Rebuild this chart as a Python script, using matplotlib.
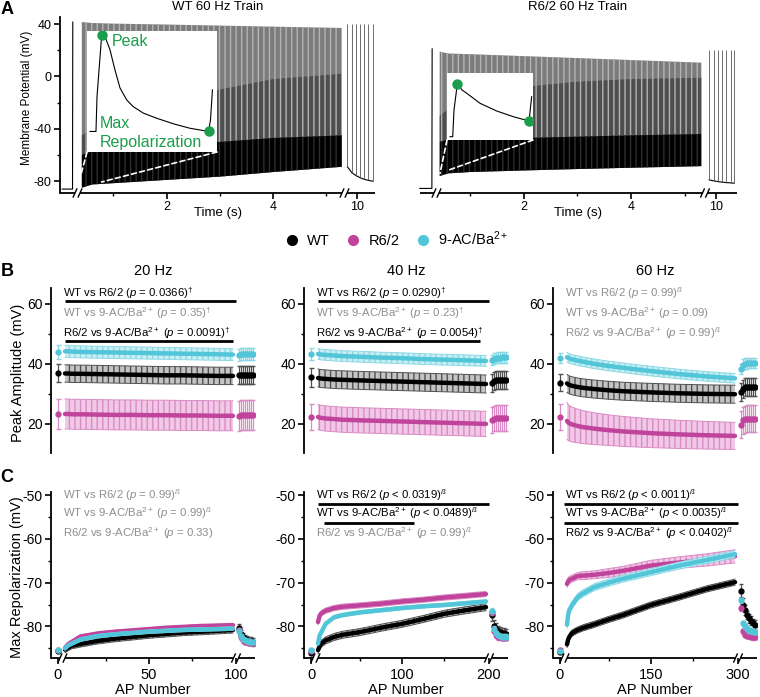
import numpy as np
import matplotlib
matplotlib.use("Agg")
import matplotlib.pyplot as plt
from matplotlib.lines import Line2D
from matplotlib.patches import ConnectionPatch
from matplotlib.ticker import FixedLocator

plt.rcParams['font.family'] = ['Liberation Sans', 'DejaVu Sans']
plt.rcParams['mathtext.fontset'] = 'custom'
plt.rcParams['mathtext.rm'] = 'Liberation Sans'
plt.rcParams['mathtext.it'] = 'Liberation Sans:italic'
plt.rcParams['mathtext.bf'] = 'Liberation Sans:bold'
plt.rcParams['axes.unicode_minus'] = False
plt.rcParams['hatch.linewidth'] = 1.0

c_wt = 'black'
c_r62 = '#c1449c'
c_ac = '#52c5d8'
c_green = '#1b9e4b'
c_ns = '#8e8e8e'

# ---------------- panel A : 60 Hz trains ----------------
# WT train
wt_pre_t = [0.04, 0.235, 0.24]
wt_pre_v = [-86.0, -86.0, 41.5]
wt_env_t = [0.41, 0.6, 1.0, 2.0, 3.0, 4.0, 5.29]
wt_env_peak = [41.5, 40.8, 40.3, 39.6, 38.8, 38.0, 37.0]
wt_env_trough = [-85.0, -82.5, -81.5, -79.0, -76.5, -73.0, -69.0]
wt_env_dark = [-60.0, -57.0, -56.0, -53.0, -50.0, -47.0, -45.0]
wt_env_spike = [-45.0, -40.0, -35.0, -22.0, -10.0, -2.0, 2.0]
wt_post_t = [9.79, 9.89, 9.99, 10.08, 10.17, 10.26, 10.37]
wt_post_v = [-69.0, -73.5, -75.8, -77.3, -78.5, -79.3, -80.0]
wt_post_peak = 40.0
# first AP of the WT train (inset), ms / mV
wt_ins_t = [0.46, 1.38, 1.54, 2.26, 2.77, 3.54, 4.30, 5.08, 6.10, 7.10, 8.67, 10.7, 13.3, 15.8, 18.7, 19.0, 19.3]
wt_ins_v = [-83.7, -83.7, -39.0, 40.0, 37.9, 20.8, -4.8, -28.0, -43.2, -51.8, -60.2, -66.7, -73.9, -79.5, -83.7, -68.8, -30.4]

# R6/2 train
r62_pre_t = [0.07, 0.295, 0.30]
r62_pre_v = [-85.5, -85.5, 21.0]
r62_env_t = [0.44, 0.6, 1.0, 2.0, 3.0, 4.0, 5.3]
r62_env_peak = [19.0, 17.5, 17.0, 15.5, 14.0, 12.5, 10.5]
r62_env_trough = [-76.0, -74.0, -73.0, -71.8, -70.7, -69.7, -68.5]
r62_env_dark = [-50.0, -48.0, -48.0, -47.0, -46.0, -45.0, -44.0]
r62_env_spike = [-30.0, -25.0, -15.0, -8.0, -4.0, -2.0, -1.0]
r62_post_t = [9.87, 9.96, 10.03, 10.10, 10.17, 10.26, 10.32]
r62_post_v = [-79.0, -79.8, -80.3, -80.7, -81.0, -81.3, -81.5]
r62_post_peak = 20.0
r62_ins_t = [0.68, 1.29, 1.58, 2.33, 3.40, 4.45, 7.45, 11.2, 14.97, 18.5, 19.1]
r62_ins_v = [-85.0, -85.0, -30.8, 22.0, 9.8, 3.1, -17.2, -32.8, -44.4, -53.1, -3.8]

# ---------------- panels B / C : per AP number ----------------
freqs = ['20 Hz', '40 Hz', '60 Hz']
n_ap = [100, 200, 300]
x20 = [1, 3, 5, 10, 20, 30, 40, 50, 60, 70, 80, 90, 99]
x40 = [1, 3, 5, 10, 20, 30, 50, 75, 100, 125, 150, 175, 199]
x60 = [1, 3, 5, 10, 20, 30, 50, 75, 100, 150, 200, 250, 299]
post20 = [101, 102, 103, 104, 105, 106, 107, 108]
post40 = [201, 202, 203, 204, 205, 206, 207, 208]
post60 = [301, 302, 303, 304, 305, 306, 307, 308]

# peak amplitude (mV)
wt_pk20 = [36.8, 36.8, 36.7, 36.7, 36.6, 36.5, 36.4, 36.3, 36.2, 36.2, 36.1, 36.0, 36.0]
r62_pk20 = [23.3, 23.3, 23.2, 23.2, 23.1, 23.0, 23.0, 22.9, 22.9, 22.8, 22.8, 22.7, 22.7]
ac_pk20 = [44.2, 44.2, 44.1, 44.0, 43.9, 43.8, 43.7, 43.6, 43.5, 43.4, 43.3, 43.2, 43.1]
wt_pk40 = [35.3, 35.2, 35.1, 35.0, 34.8, 34.7, 34.5, 34.3, 34.1, 33.9, 33.7, 33.5, 33.3]
r62_pk40 = [22.3, 22.1, 22.0, 21.8, 21.6, 21.4, 21.2, 21.0, 20.8, 20.6, 20.4, 20.2, 20.0]
ac_pk40 = [43.3, 43.2, 43.1, 43.0, 42.8, 42.6, 42.4, 42.1, 41.9, 41.6, 41.4, 41.2, 41.0]
wt_pk60 = [33.5, 33.2, 33.0, 32.7, 32.3, 32.0, 31.6, 31.2, 30.9, 30.5, 30.2, 30.0, 29.9]
r62_pk60 = [21.0, 20.5, 20.2, 19.8, 19.3, 18.9, 18.4, 17.9, 17.5, 16.9, 16.5, 16.2, 16.0]
ac_pk60 = [42.2, 42.0, 41.8, 41.5, 41.1, 40.7, 40.0, 39.3, 38.7, 37.6, 36.6, 35.8, 35.2]
r62_pk60_err = [6.2, 6.0, 5.9, 5.8, 5.6, 5.5, 5.3, 5.1, 5.0, 4.8, 4.7, 4.6, 4.5]
wt_pk_err = [2.9, 3.0, 3.0]
r62_pk_err = [5.0, 4.2, r62_pk60_err]
ac_pk_err = [2.0, 1.8, 1.6]

wt_pk_pre = [37.0, 35.5, 33.8]
r62_pk_pre = [23.3, 22.3, 22.3]
ac_pk_pre = [44.0, 43.3, 42.0]
wt_pk_pre_err = [3.0, 3.2, 2.8]
r62_pk_pre_err = [5.0, 4.3, 4.2]
ac_pk_pre_err = [2.3, 2.0, 1.8]

wt_pk_post20 = [36.2, 36.3, 36.4, 36.4, 36.4, 36.4, 36.4, 36.4]
r62_pk_post20 = [22.8, 22.9, 23.0, 23.0, 23.0, 23.0, 23.0, 23.0]
ac_pk_post20 = [43.1, 43.3, 43.4, 43.4, 43.4, 43.4, 43.4, 43.4]
wt_pk_post40 = [33.8, 34.3, 34.5, 34.6, 34.6, 34.7, 34.7, 34.7]
r62_pk_post40 = [21.2, 21.8, 22.0, 22.0, 22.1, 22.1, 22.1, 22.1]
ac_pk_post40 = [41.3, 41.8, 42.0, 42.1, 42.1, 42.2, 42.2, 42.2]
wt_pk_post60 = [30.5, 31.8, 32.2, 32.3, 32.4, 32.4, 32.4, 32.4]
r62_pk_post60 = [19.8, 21.3, 21.6, 21.7, 21.8, 21.8, 21.8, 21.8]
ac_pk_post60 = [38.3, 39.7, 40.1, 40.2, 40.3, 40.3, 40.3, 40.3]
wt_pk_post_err = [3.0, 3.0, 3.0]
r62_pk_post_err = [5.0, 4.3, 4.5]
ac_pk_post_err = [2.0, 1.8, 1.8]

# max repolarization (mV)
wt_mr20 = [-85.3, -84.8, -84.4, -84.0, -83.3, -82.8, -82.4, -82.0, -81.7, -81.4, -81.2, -81.0, -80.8]
r62_mr20 = [-84.9, -84.0, -83.5, -82.3, -81.6, -81.2, -80.9, -80.6, -80.3, -80.1, -79.9, -79.8, -79.7]
ac_mr20 = [-85.0, -84.3, -83.9, -83.0, -82.2, -81.8, -81.5, -81.2, -81.0, -80.8, -80.7, -80.6, -80.5]
wt_mr40 = [-85.4, -84.5, -83.9, -83.2, -82.4, -81.9, -81.3, -80.3, -79.4, -78.3, -77.1, -76.3, -75.6]
r62_mr40 = [-79.0, -77.5, -77.0, -76.4, -75.8, -75.5, -75.2, -74.8, -74.3, -73.9, -73.4, -73.0, -72.6]
ac_mr40 = [-83.9, -82.0, -81.3, -79.4, -77.9, -77.4, -76.8, -76.3, -75.8, -75.4, -75.1, -74.7, -74.3]
wt_mr60 = [-84.1, -83.0, -82.4, -81.5, -80.8, -80.3, -79.5, -78.4, -77.4, -75.1, -73.3, -71.4, -69.9]
r62_mr60 = [-70.3, -69.7, -69.4, -69.1, -68.5, -68.4, -68.2, -67.8, -67.3, -66.1, -65.4, -64.8, -64.0]
ac_mr60 = [-79.6, -77.4, -76.3, -75.1, -73.3, -72.4, -71.0, -70.0, -69.1, -67.6, -66.1, -64.8, -63.5]
r62_mr60_err = [0.8, 0.8, 0.8, 0.8, 0.8, 0.9, 0.9, 1.0, 1.0, 1.2, 1.3, 1.4, 1.5]
wt_mr_err = [0.7, 0.8, 0.7]
r62_mr_err = [0.3, 0.6, r62_mr60_err]
ac_mr_err = [0.4, 0.4, 0.8]

wt_mr_pre = [-85.6, -86.0, -85.8]
r62_mr_pre = [-85.4, -85.5, -85.3]
ac_mr_pre = [-85.3, -85.3, -85.6]
mr_pre_err = [0.3, 0.3, 0.3]

wt_mr_post20 = [-80.3, -81.8, -82.5, -82.9, -83.1, -83.3, -83.4, -83.5]
r62_mr_post20 = [-80.8, -82.5, -83.2, -83.5, -83.6, -83.7, -83.8, -83.8]
ac_mr_post20 = [-81.0, -82.2, -82.8, -83.1, -83.3, -83.4, -83.5, -83.5]
wt_mr_post40 = [-77.5, -79.8, -80.5, -81.0, -81.3, -81.5, -81.6, -81.7]
r62_mr_post40 = [-76.8, -81.0, -82.0, -82.4, -82.5, -82.6, -82.6, -82.6]
ac_mr_post40 = [-76.4, -80.5, -81.5, -82.0, -82.2, -82.3, -82.3, -82.3]
wt_mr_post60 = [-71.8, -75.0, -76.3, -77.4, -78.1, -78.7, -79.3, -79.6]
r62_mr_post60 = [-75.9, -81.1, -81.9, -82.1, -82.2, -82.3, -82.4, -82.4]
ac_mr_post60 = [-74.0, -79.3, -80.0, -80.5, -80.8, -81.0, -81.1, -81.2]
wt_mr_post60_err = [1.5, 1.5, 1.2, 1.0, 1.0, 1.0, 1.0, 1.0]
wt_mr_post_err = [0.9, 1.2, wt_mr_post60_err]
r62_mr_post_err = [0.5, 0.6, 0.6]
ac_mr_post_err = [0.5, 0.5, 0.6]

# statistics labels (text, significant?)
dag = r'$^{\dagger}$'
bet = r'$^{ß}$'
ba = r'9-AC/Ba$^{2+}$'
stats_pk = [
    [('WT vs R6/2 ($p$ = 0.0366)' + dag, True), ('WT vs ' + ba + ' ($p$ = 0.35)' + dag, False),
     ('R6/2 vs ' + ba + ' ($p$ = 0.0091)' + dag, True)],
    [('WT vs R6/2 ($p$ = 0.0290)' + dag, True), ('WT vs ' + ba + ' ($p$ = 0.23)' + dag, False),
     ('R6/2 vs ' + ba + ' ($p$ = 0.0054)' + dag, True)],
    [('WT vs R6/2 ($p$ = 0.99)' + bet, False), ('WT vs ' + ba + ' ($p$ = 0.09)', False),
     ('R6/2 vs ' + ba + ' ($p$ = 0.99)' + bet, False)],
]
stats_mr = [
    [('WT vs R6/2 ($p$ = 0.99)' + bet, False), ('WT vs ' + ba + ' ($p$ = 0.99)' + bet, False),
     ('R6/2 vs ' + ba + ' ($p$ = 0.33)', False)],
    [('WT vs R6/2 ($p$ < 0.0319)' + bet, True), ('WT vs ' + ba + ' ($p$ < 0.0489)' + bet, True),
     ('R6/2 vs ' + ba + ' ($p$ = 0.99)' + bet, False)],
    [('WT vs R6/2 ($p$ < 0.0011)' + bet, True), ('WT vs ' + ba + ' ($p$ < 0.0035)' + bet, True),
     ('R6/2 vs ' + ba + ' ($p$ < 0.0402)' + bet, True)],
]
# AP ranges covered by the significance bars
bars_pk = [[(1, 100), (1, 99)], [(1, 200), (1, 192)], []]
bars_mr = [[], [(1, 200), (8, 114)], [(0.5, 300), (0.5, 300)]]

# ---------------- figure ----------------
W, H = 760, 697
fig = plt.figure(figsize=(W / 100, H / 100), dpi=100)


def fx(px):
    return px / W


def fy(py):
    return 1 - py / H


def box(x0, y0, x1, y1):
    return [fx(x0), fy(y1), (x1 - x0) / W, (y1 - y0) / H]


def broken_x(ax, xk, uk):
    xk = np.asarray(xk, float)
    uk = np.asarray(uk, float)
    ax.set_xscale('function', functions=(lambda x: np.interp(x, xk, uk),
                                         lambda u: np.interp(u, uk, xk)))
    ax.set_xlim(xk[0], xk[-1])


def axis_line(ax, ubreaks, utot, hpx, start=0.0, gap=2.5):
    fr = [u / utot for u in ubreaks]
    g = gap / utot
    edges = [start]
    for f in fr:
        edges += [f - g, f + g]
    edges.append(1.0)
    for a, b in zip(edges[0::2], edges[1::2]):
        ax.plot([a, b], [0, 0], transform=ax.transAxes, color='k', lw=1.3,
                clip_on=False, solid_capstyle='butt')
    dx = 1.8 / utot
    dy = 4.0 / hpx
    for f in fr:
        for s in (f - g, f + g):
            ax.plot([s - dx, s + dx], [-dy, dy], transform=ax.transAxes, color='k',
                    lw=1.0, clip_on=False)


def style(ax, labelsize):
    for s in ['top', 'right', 'bottom']:
        ax.spines[s].set_visible(False)
    ax.spines['left'].set_linewidth(1.3)
    ax.tick_params(which='major', direction='out', length=4, width=1.2, labelsize=labelsize, pad=2)
    ax.tick_params(which='minor', direction='out', length=2.5, width=1.0)


# ---- A ----
def train(ax, tk, uk, pre_t, pre_v, env_t, pk, tr, dark, spk, post_t, post_v, post_pk):
    broken_x(ax, tk, uk)
    ax.set_ylim(-89, 45.6)
    ax.fill_between(env_t, tr, pk, facecolor='#7c7c7c', lw=0, zorder=1)
    ax.fill_between(env_t, dark, spk, facecolor='#4e4e4e', lw=0, zorder=1.5)
    ax.fill_between(env_t, dark, pk, facecolor='none', edgecolor='#b4b4b4', hatch='|||', lw=0, zorder=2)
    ax.fill_between(env_t, tr, dark, facecolor='black', lw=0, zorder=3)
    ax.fill_between(env_t, tr, dark, facecolor='none', edgecolor='#2e2e2e', hatch='|||', lw=0, zorder=3.2)
    ax.plot(pre_t, pre_v, color='k', lw=0.8)
    ax.plot(post_t, post_v, color='k', lw=0.8)
    ax.vlines(post_t, post_v, post_pk, color='#555555', lw=0.6)
    ax.xaxis.set_major_locator(FixedLocator([2, 4, 10]))
    ax.xaxis.set_minor_locator(FixedLocator([1, 3, 5]))
    ax.set_xticklabels(['2', '4', '10'])


def inset(rect, t, v, xlim, ylim):
    ins = fig.add_axes(rect)
    ins.set_facecolor('white')
    for s in ins.spines.values():
        s.set_visible(False)
    ins.set_xticks([])
    ins.set_yticks([])
    ins.set_xlim(*xlim)
    ins.set_ylim(*ylim)
    ins.plot(t, v, color='k', lw=0.8)
    ip = int(np.argmax(v))
    im = ip + int(np.argmin(v[ip:-1]))
    ins.plot([t[ip], t[im]], [v[ip], v[im]], 'o', color=c_green, ms=6.5, zorder=5)
    return ins


tk_wt, uk_wt = [0, 5.35, 9.78, 10.42], [0, 285, 287, 315]
axA1 = fig.add_axes(box(60, 16.7, 375, 193))
train(axA1, tk_wt, uk_wt, wt_pre_t, wt_pre_v, wt_env_t, wt_env_peak, wt_env_trough,
      wt_env_dark, wt_env_spike, wt_post_t, wt_post_v, wt_post_peak)
style(axA1, 9)
axA1.yaxis.set_major_locator(FixedLocator([-80, -40, 0, 40]))
axA1.yaxis.set_minor_locator(FixedLocator([-60, -20, 20]))
axis_line(axA1, [17.5, 284.5], 315, 176)
insA1 = inset(box(87, 31, 217, 152), wt_ins_t, wt_ins_v, (0, 20), (-110, 45))
for xy, pt in [((0, 0), (0.39, -75.5)), ((1, 0), (0.78, -80.6))]:
    con = ConnectionPatch(xyA=xy, coordsA=insA1.transAxes, xyB=pt, coordsB=axA1.transData,
                          color='white', lw=1.2, ls=(0, (3, 2)), zorder=6)
    fig.add_artist(con)

tk_r, uk_r = [0, 5.35, 9.83, 10.37], [0, 288, 291, 321]
axA2 = fig.add_axes(box(416, 16.7, 737, 193))
train(axA2, tk_r, uk_r, r62_pre_t, r62_pre_v, r62_env_t, r62_env_peak, r62_env_trough,
      r62_env_dark, r62_env_spike, r62_post_t, r62_post_v, r62_post_peak)
style(axA2, 9)
axA2.spines['left'].set_visible(False)
axA2.tick_params(axis='y', which='both', left=False, labelleft=False)
axis_line(axA2, [20.5, 289], 321, 176, start=4 / 321)
insA2 = inset(box(447, 73, 533, 140), r62_ins_t, r62_ins_v, (0, 19.4), (-91.7, 44.3))
for xy, pt in [((0, 0), (0.446, -74.0)), ((1, 0), (0.60, -71.6))]:
    con = ConnectionPatch(xyA=xy, coordsA=insA2.transAxes, xyB=pt, coordsB=axA2.transData,
                          color='white', lw=1.2, ls=(0, (3, 2)), zorder=6)
    fig.add_artist(con)

fig.text(fx(112), fy(41), 'Peak', color=c_green, fontsize=11.5, va='center', ha='left')
fig.text(fx(100), fy(123), 'Max', color=c_green, fontsize=11.5, va='center', ha='left')
fig.text(fx(100), fy(142), 'Repolarization', color=c_green, fontsize=11.5, va='center', ha='left')
fig.text(fx(218), fy(7), 'WT 60 Hz Train', fontsize=9.5, ha='center', va='center')
fig.text(fx(578), fy(7), 'R6/2 60 Hz Train', fontsize=9.5, ha='center', va='center')
fig.text(fx(218), fy(213), 'Time (s)', fontsize=9.5, ha='center', va='center')
fig.text(fx(578), fy(213), 'Time (s)', fontsize=9.5, ha='center', va='center')
fig.text(fx(27), fy(98), 'Membrane Potential (mV)', fontsize=8.5, rotation=90, ha='center', va='center')

# legend
handles = [Line2D([], [], marker='o', ls='none', color=c, ms=7) for c in (c_wt, c_r62, c_ac)]
fig.legend(handles, ['WT', 'R6/2', ba], loc='center', bbox_to_anchor=(fx(393), fy(239)),
           ncol=3, frameon=False, fontsize=10.5, handletextpad=0.05, columnspacing=0.6,
           borderaxespad=0, borderpad=0)

# ---- B and C ----
x_main = [x20, x40, x60]
x_post = [post20, post40, post60]
wt_pk = [wt_pk20, wt_pk40, wt_pk60]
r62_pk = [r62_pk20, r62_pk40, r62_pk60]
ac_pk = [ac_pk20, ac_pk40, ac_pk60]
wt_pk_post = [wt_pk_post20, wt_pk_post40, wt_pk_post60]
r62_pk_post = [r62_pk_post20, r62_pk_post40, r62_pk_post60]
ac_pk_post = [ac_pk_post20, ac_pk_post40, ac_pk_post60]
wt_mr = [wt_mr20, wt_mr40, wt_mr60]
r62_mr = [r62_mr20, r62_mr40, r62_mr60]
ac_mr = [ac_mr20, ac_mr40, ac_mr60]
wt_mr_post = [wt_mr_post20, wt_mr_post40, wt_mr_post60]
r62_mr_post = [r62_mr_post20, r62_mr_post40, r62_mr_post60]
ac_mr_post = [ac_mr_post20, ac_mr_post40, ac_mr_post60]

looks = {
    'wt': (c_wt, '#c4c4c4', '#505050', 2),
    'r62': (c_r62, '#f1c8e6', '#d98cc5', 3),
    'ac': (c_ac, '#c9eef4', '#8cd9e6', 4),
}


def series(ax, key, xm, ym, em, x0, y0, e0, xp, yp, ep):
    col, face, hc, z = looks[key]
    xm = np.asarray(xm, float)
    ym = np.asarray(ym, float)
    em = np.asarray(em, float)
    ax.fill_between(xm, ym - em, ym + em, facecolor=face, edgecolor=hc, hatch='|||', lw=0, zorder=z)
    ax.plot(xm, ym - em, color=hc, lw=0.7, zorder=z)
    ax.plot(xm, ym + em, color=hc, lw=0.7, zorder=z)
    ax.plot(xm, ym, color=col, lw=3.2, solid_capstyle='round', zorder=z + 0.5)
    ax.errorbar([x0], [y0], yerr=[e0], fmt='o', ms=3.5, color=col, ecolor=hc, elinewidth=0.9,
                capsize=1.8, zorder=z + 0.5)
    ax.errorbar(xp, yp, yerr=ep, fmt='o', ms=3.5, color=col, ecolor=hc, elinewidth=0.9,
                capsize=1.5, zorder=z + 0.5)


ax_left = [51, 304, 553]
grey_txt = c_ns
for i in range(3):
    N = n_ap[i]
    xk = [-3, 0, 1, N - 1, N, N + 1, N + 9]
    uk = [0, 7, 14, 182, 185, 188, 204]
    xl = ax_left[i]

    # B : peak amplitude
    axB = fig.add_axes(box(xl, 288, xl + 204, 453))
    broken_x(axB, xk, uk)
    axB.set_ylim(10.3, 65.3)
    style(axB, 10)
    axB.tick_params(axis='x', which='both', bottom=False, labelbottom=False)
    axB.yaxis.set_major_locator(FixedLocator([20, 40, 60]))
    axB.yaxis.set_minor_locator(FixedLocator([30, 50]))
    series(axB, 'wt', x_main[i], wt_pk[i], wt_pk_err[i], 0, wt_pk_pre[i], wt_pk_pre_err[i],
           x_post[i], wt_pk_post[i], wt_pk_post_err[i])
    series(axB, 'r62', x_main[i], r62_pk[i], r62_pk_err[i], 0, r62_pk_pre[i], r62_pk_pre_err[i],
           x_post[i], r62_pk_post[i], r62_pk_post_err[i])
    series(axB, 'ac', x_main[i], ac_pk[i], ac_pk_err[i], 0, ac_pk_pre[i], ac_pk_pre_err[i],
           x_post[i], ac_pk_post[i], ac_pk_post_err[i])
    for (s, sig), yv in zip(stats_pk[i], [63.7, 57.0, 50.3]):
        axB.text(12 / 204, yv, s, transform=axB.get_yaxis_transform(), fontsize=8.2,
                 color='k' if sig else grey_txt, va='center', ha='left')
    for (a, b), yv in zip(bars_pk[i], [61.0, 47.7]):
        axB.plot([a, b], [yv, yv], color='k', lw=2, clip_on=False, solid_capstyle='butt', zorder=6)
    fig.text(fx(xl + 102), fy(271), freqs[i], fontsize=10.5, ha='center', va='center')

    # C : max repolarization
    axC = fig.add_axes(box(xl, 491.5, xl + 204, 658))
    broken_x(axC, xk, uk)
    axC.set_ylim(-87.2, -49.2)
    style(axC, 10)
    axC.yaxis.set_major_locator(FixedLocator([-80, -70, -60, -50]))
    axC.yaxis.set_minor_locator(FixedLocator([-85, -75, -65, -55]))
    axC.xaxis.set_major_locator(FixedLocator([0, N // 2, N]))
    axC.xaxis.set_minor_locator(FixedLocator([N // 4, 3 * N // 4]))
    axC.set_xticklabels(['0', str(N // 2), str(N)])
    axC.tick_params(axis='x', labelsize=10.5, pad=3)
    axis_line(axC, [11.5, 185], 204, 166.5)
    series(axC, 'wt', x_main[i], wt_mr[i], wt_mr_err[i], 0, wt_mr_pre[i], mr_pre_err[i],
           x_post[i], wt_mr_post[i], wt_mr_post_err[i])
    series(axC, 'r62', x_main[i], r62_mr[i], r62_mr_err[i], 0, r62_mr_pre[i], mr_pre_err[i],
           x_post[i], r62_mr_post[i], r62_mr_post_err[i])
    series(axC, 'ac', x_main[i], ac_mr[i], ac_mr_err[i], 0, ac_mr_pre[i], mr_pre_err[i],
           x_post[i], ac_mr_post[i], ac_mr_post_err[i])
    for (s, sig), yv in zip(stats_mr[i], [-50.0, -54.2, -58.8]):
        axC.text(12 / 204, yv, s, transform=axC.get_yaxis_transform(), fontsize=8.2,
                 color='k' if sig else grey_txt, va='center', ha='left')
    for (a, b), yv in zip(bars_mr[i], [-52.1, -56.4]):
        axC.plot([a, b], [yv, yv], color='k', lw=2, clip_on=False, solid_capstyle='butt', zorder=6)
    fig.text(fx(xl + 102), fy(690), 'AP Number', fontsize=10.5, ha='center', va='center')

fig.text(fx(18), fy(373), 'Peak Amplitude (mV)', fontsize=10.5, rotation=90, ha='center', va='center')
fig.text(fx(17), fy(577), 'Max Repolarization (mV)', fontsize=10.5, rotation=90, ha='center', va='center')

for lab, py in [('A', 9), ('B', 272), ('C', 478)]:
    fig.text(fx(7), fy(py), lab, fontsize=13, fontweight='bold', ha='center', va='center')

fig.savefig('out.png', dpi=100)
